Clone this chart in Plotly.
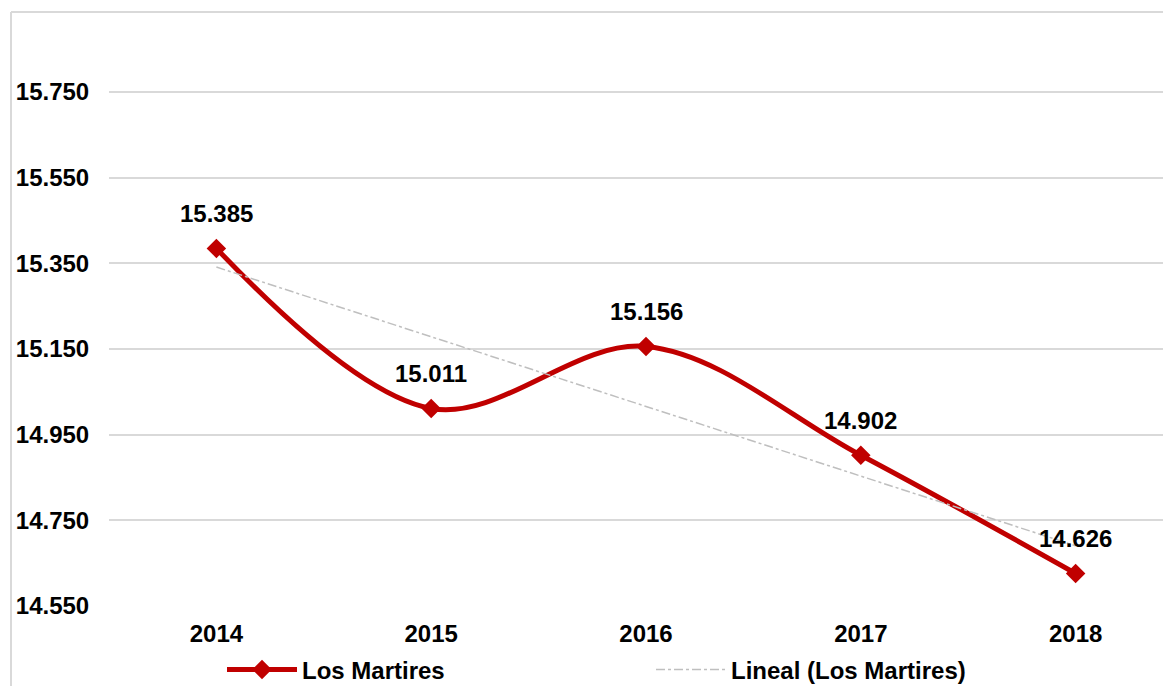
import numpy as np
import plotly.graph_objects as go

# Data
years = ["2014", "2015", "2016", "2017", "2018"]
los_martires = [15385, 15011, 15156, 14902, 14626]
y_ticks = [14550, 14750, 14950, 15150, 15350, 15550, 15750]

FONT = "Liberation Sans, Arial, sans-serif"
RED = "#c00000"
GRID = "#d9d9d9"
FS = 24


def es_fmt(v):
    """ Spanish style thousands separator """
    return f"{v:,.0f}".replace(",", ".")


def px_x(px):
    """ page pixel column -> paper x (plot area is 109..1171 on page) """
    return (px - 109) / 1062


def px_y(py):
    """ page pixel row -> paper y (plot area is 12..606 on page) """
    return (606 - py) / 594


# Linear trend like Excel's "Lineal" trendline
xi = np.arange(1, len(years) + 1)
slope, intercept = np.polyfit(xi, los_martires, 1)
trend = slope * xi + intercept

fig = go.Figure()

fig.add_trace(go.Scatter(
    x=years, y=los_martires, name="Los Martires", legend="legend",
    mode="lines+markers", line=dict(color=RED, width=5, shape="spline",
                                    smoothing=1),
    marker=dict(symbol="diamond", size=15, color=RED)))

fig.add_trace(go.Scatter(
    x=years, y=trend, name="Lineal (Los Martires)", legend="legend2",
    mode="lines", line=dict(color="#bfbfbf", width=1.5, dash="dashdot")))

# data labels above the points (category index for x)
for i, v in enumerate(los_martires):
    fig.add_annotation(x=i, y=v, xref="x", yref="y", text=es_fmt(v),
                       showarrow=False, yshift=35,
                       font=dict(size=FS, color="black", family=FONT,
                                 weight="bold"))

# chart frame (left and top edges, rest is cropped)
fig.add_shape(type="line", xref="paper", yref="paper",
              x0=px_x(11), x1=px_x(11), y0=px_y(12), y1=px_y(700),
              line=dict(color=GRID, width=2))
fig.add_shape(type="line", xref="paper", yref="paper",
              x0=px_x(11), x1=px_x(1180), y0=px_y(12), y1=px_y(12),
              line=dict(color=GRID, width=2))

leg_font = dict(size=FS, family=FONT, weight="bold", color="black")

# the page body has an 8px margin, so the figure is 8px smaller each way
fig.update_layout(
    width=1163, height=678,
    margin=dict(l=101, r=0, t=4, b=80, autoexpand=False),
    paper_bgcolor="white", plot_bgcolor="white",
    font=dict(family=FONT, size=FS, color="black"),
    showlegend=True,
    legend=dict(orientation="h", x=px_x(222), xanchor="left",
                y=px_y(670), yanchor="middle", itemwidth=70,
                bgcolor="rgba(0,0,0,0)", font=leg_font),
    legend2=dict(orientation="h", x=px_x(651), xanchor="left",
                 y=px_y(670), yanchor="middle", itemwidth=70,
                 bgcolor="rgba(0,0,0,0)", font=leg_font),
    xaxis=dict(type="category", range=[-0.5, 4.444], showgrid=False,
               showline=False, ticks="outside", ticklen=6,
               tickcolor="rgba(0,0,0,0)",
               tickfont=dict(size=FS, family=FONT, weight="bold")),
    yaxis=dict(range=[14550, 15937], tickvals=y_ticks,
               ticktext=[es_fmt(v) for v in y_ticks],
               showgrid=True, gridcolor=GRID, gridwidth=1.5,
               zeroline=False, showline=False, ticks="outside",
               ticklen=14, tickcolor="rgba(0,0,0,0)",
               tickfont=dict(size=FS, family=FONT, weight="bold")),
)

fig.write_html("out.html")
